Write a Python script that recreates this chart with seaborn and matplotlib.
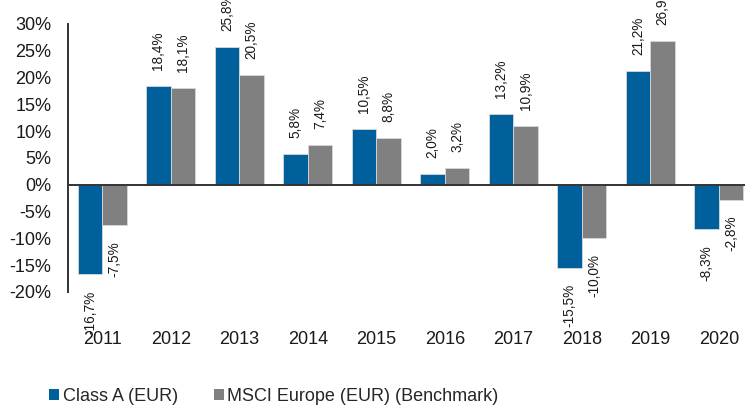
import numpy as np
import pandas as pd
import matplotlib
matplotlib.use("Agg")
from matplotlib import pyplot as plt
from matplotlib.patches import Patch
import seaborn as sns

years = ["2011", "2012", "2013", "2014", "2015", "2016", "2017", "2018", "2019", "2020"]
class_a = [-16.7, 18.4, 25.8, 5.8, 10.5, 2.0, 13.2, -15.5, 21.2, -8.3]
msci = [-7.5, 18.1, 20.5, 7.4, 8.8, 3.2, 10.9, -10.0, 26.9, -2.8]
series_names = ["Class A (EUR)", "MSCI Europe (EUR) (Benchmark)"]
colors = ["#00609C", "#808080"]

df = pd.DataFrame({
    "year": years * 2,
    "value": class_a + msci,
    "series": [series_names[0]] * len(years) + [series_names[1]] * len(years),
})

sns.set_style("white")
plt.rcParams["font.family"] = ["Liberation Sans", "DejaVu Sans"]

fig = plt.figure(figsize=(7.45, 4.07), dpi=100)
ax = fig.add_axes([68 / 745, 1 - 292 / 407, 685 / 745, 268 / 407])

sns.barplot(data=df, x="year", y="value", hue="series", palette=colors,
            saturation=1, width=0.72, dodge=True, ax=ax,
            edgecolor="#d8d8d8", linewidth=0.6, legend=False)

# value labels, rotated, comma decimals
for cont, vals in zip(ax.containers, [class_a, msci]):
    ax.bar_label(cont, labels=[f"{v:.1f}%".replace(".", ",") for v in vals],
                 padding=11.5, rotation=90, fontsize=9.8, color="#1a1a1a")

ax.set_xlim(-0.5, 9.5)
ax.set_ylim(-20, 30)
ax.set_yticks(np.arange(-20, 31, 5))
ax.set_yticklabels([f"{t}%" for t in range(-20, 31, 5)])
ax.set_xlabel("")
ax.set_ylabel("")

for s in ["top", "right"]:
    ax.spines[s].set_visible(False)
ax.spines["bottom"].set_position(("data", 0))
for s in ["left", "bottom"]:
    ax.spines[s].set_color("#333333")
    ax.spines[s].set_linewidth(1.4)

ax.tick_params(axis="y", direction="in", length=5, width=1.2, color="#333333",
               labelsize=13, labelcolor="#1a1a1a", pad=12)
ax.tick_params(axis="x", direction="out", length=4, width=1.2, color="#333333",
               labelsize=13, labelcolor="#1a1a1a", pad=101)

handles = [Patch(facecolor=c, edgecolor="none") for c in colors]
fig.legend(handles, series_names, loc="center left", bbox_to_anchor=(0.066, 0.025),
           ncol=2, frameon=False, fontsize=13, handlelength=0.55, handleheight=0.55,
           handletextpad=0.2, columnspacing=2.0, borderaxespad=0, borderpad=0)

fig.savefig("out.png", dpi=100)
